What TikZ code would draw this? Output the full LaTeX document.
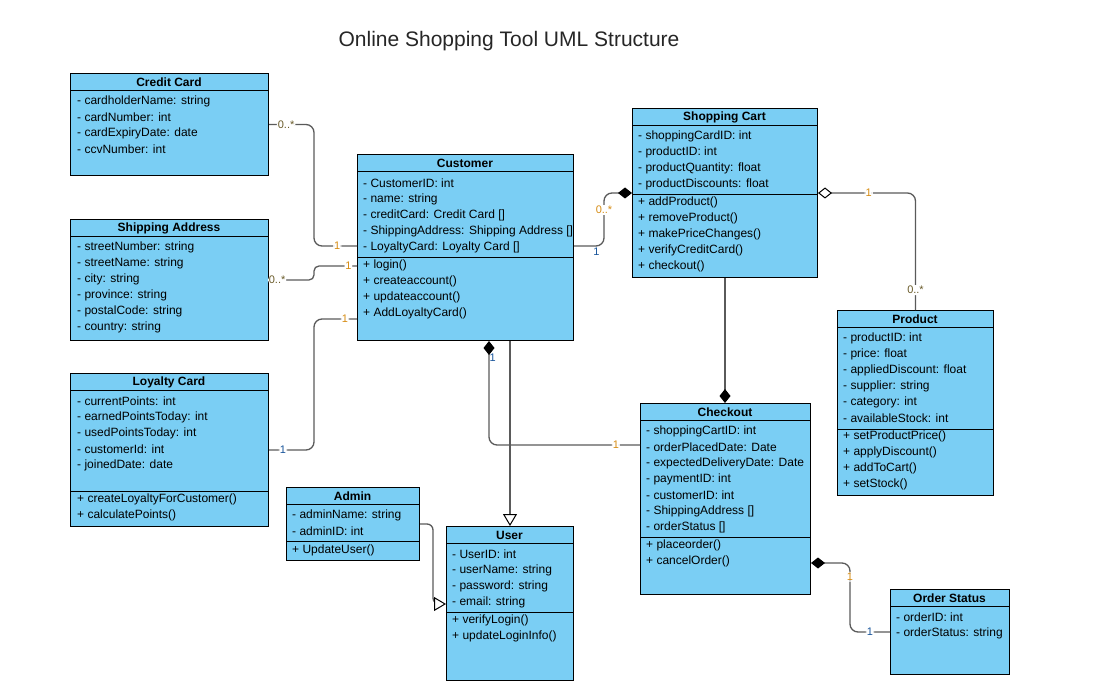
\documentclass[tikz,border=0pt]{standalone}
\usepackage{fontspec}
\setmainfont{Liberation Sans}
\usetikzlibrary{arrows.meta}
\definecolor{boxblue}{RGB}{122,206,244}
\definecolor{linegray}{RGB}{90,90,90}
\definecolor{mulorange}{RGB}{214,140,20}
\definecolor{mulblue}{RGB}{25,85,155}
\definecolor{mulolive}{RGB}{105,90,40}
\tikzset{
  font={\fontsize{12pt}{14pt}\selectfont}}

% class box: name, x, y, width, height, title
\newcommand{\classbox}[6]{%
  \node[cls, minimum width=#4, minimum height=#5] (#1) at (#2,#3) {};
  \node[clstitle] at (#2+#4/2,#3+9) {#6};
  \draw (#1.north west) ++(0,17) -- ++(#4,0);}
% member lines: x, y of first line, list
\newcommand{\members}[3]{%
  \foreach \t [count=\i] in {#3}
    \node[member] at (#1,#2+16*\i-16) {\t};}

\begin{document}
\begin{tikzpicture}[x=1pt,y=-1pt]
\tikzstyle{cls}=[draw=black, fill=boxblue, anchor=north west, inner sep=0pt, line width=1pt]
\tikzstyle{clstitle}=[font=\bfseries\fontsize{12pt}{14pt}\selectfont, inner sep=0pt]
\tikzstyle{member}=[anchor=west, inner sep=0pt]
\tikzstyle{assoc}=[draw=linegray, line width=1.3pt, rounded corners=8]
\tikzstyle{mult}=[font=\fontsize{11pt}{12pt}\selectfont, fill=white, inner sep=1pt]
\tikzstyle{comp}=[-{Diamond[length=14pt,width=11pt,color=black]}]
\tikzstyle{rcomp}=[{Diamond[length=14pt,width=11pt,color=black]}-]
\tikzstyle{agg}=[{Diamond[open,fill=white,length=14pt,width=11pt,color=black,line width=1pt]}-]
\tikzstyle{gen}=[-{Triangle[open,fill=white,length=12pt,width=14pt,color=black,line width=1pt]}]
\useasboundingbox (0,0) rectangle (1096,698);

\node[text=black!85] (title) at (509,41) {\fontsize{21pt}{25pt}\selectfont Online Shopping Tool UML Structure};

\classbox{credit}{70}{73}{198}{102}{Credit Card}
\members{77}{101}{- cardholderName: string, - cardNumber: int, - cardExpiryDate: date, - ccvNumber: int}

\classbox{ship}{70}{219}{198}{121}{Shipping Address}
\members{77}{247}{- streetNumber: string, - streetName: string, - city: string, - province: string, - postalCode: string, - country: string}

\classbox{loyal}{70}{373}{198}{153}{Loyalty Card}
\members{77}{401}{- currentPoints: int, - earnedPointsToday: int, - usedPointsToday: int, - customerId: int, - joinedDate: date}
\draw (70,491) -- (268,491);
\members{77}{499}{+ createLoyaltyForCustomer(), + calculatePoints()}

\classbox{customer}{357}{154}{216}{186}{Customer}
\members{363}{183}{- CustomerID: int, - name: string, - creditCard: Credit Card [], - ShippingAddress: Shipping Address [], - LoyaltyCard: Loyalty Card []}
\draw (357,257) -- (573,257);
\members{363}{265}{+ login(), + createaccount(), + updateaccount(), + AddLoyaltyCard()}

\classbox{cart}{632}{108}{185}{169}{Shopping Cart}
\members{638}{136}{- shoppingCardID: int, - productID: int, - productQuantity: float, - productDiscounts: float}
\draw (632,194) -- (817,194);
\members{638}{202}{+ addProduct(), + removeProduct(), + makePriceChanges(), + verifyCreditCard(), + checkout()}

\classbox{product}{837}{310}{156}{185}{Product}
\members{843}{338}{- productID: int, - price: float, - appliedDiscount: float, - supplier: string, - category: int, - availableStock: int}
\draw (837,429) -- (993,429);
\members{843}{436}{+ setProductPrice(), + applyDiscount(), + addToCart(), + setStock()}

\classbox{checkout}{640}{403}{170}{191}{Checkout}
\members{646}{431}{- shoppingCartID: int, - orderPlacedDate: Date, - expectedDeliveryDate: Date, - paymentID: int, - customerID: int, - ShippingAddress [], - orderStatus []}
\draw (640,537) -- (810,537);
\members{646}{545}{+ placeorder(), + cancelOrder()}

\classbox{admin}{286}{487}{133}{73}{Admin}
\members{292}{515}{- adminName: string, - adminID: int}
\draw (286,541) -- (419,541);
\members{292}{550}{+ UpdateUser()}

\classbox{user}{446}{526}{127}{154}{User}
\members{452}{554}{- UserID: int, - userName: string, - password: string, - email: string}
\draw (446,612) -- (573,612);
\members{452}{620}{+ verifyLogin(), + updateLoginInfo()}

\classbox{ostatus}{890}{589}{119}{85}{Order Status}
\members{896}{617}{- orderID: int, - orderStatus: string}

% associations of the customer
\draw[assoc] (credit.east) -- node[mult, pos=0.38, text=mulolive]{0..*} ++(45,0)
  |- node[mult, pos=0.77, text=mulorange]{1} ([yshift=-92]customer.north west);
\draw[assoc, rounded corners=5] (ship.east) -- node[mult, pos=0.18, text=mulolive]{0..*} ++(45,0)
  |- node[mult, pos=0.9, text=mulorange]{1} ([yshift=-112]customer.north west);
\draw[assoc] (loyal.east) -- node[mult, pos=0.31, text=mulblue]{1} ++(45,0)
  |- node[mult, pos=0.86, text=mulorange]{1} ([yshift=-165]customer.north west);
\draw[assoc, comp] ([yshift=-92]customer.north east) -- node[mult, fill=none, pos=0.75, below, text=mulblue]{1} ++(30,0)
  |- node[mult, pos=0.34, text=mulorange]{0..*} ([yshift=-85]cart.north west);
\draw[assoc, rcomp] ([xshift=132]customer.south west)
  |- node[mult, fill=none, pos=0.08, anchor=west, inner sep=0pt, text=mulblue]{1}
     node[mult, pos=0.92, text=mulorange]{1} ([yshift=-42]checkout.north west);
\draw[assoc, gen] (customer.south -| user.north) -- (user.north);
\draw[assoc, gen, rounded corners=6] (admin.east) -- ++(13,0) |- ([yshift=-78]user.north west);

% cart, product, checkout, order status
\draw[assoc, agg] ([yshift=-85]cart.north east)
  -| node[mult, pos=0.26, text=mulorange]{1} node[mult, pos=0.915, text=mulolive]{0..*} (product.north);
\draw[assoc, comp] (cart.south) -- (cart.south |- checkout.north);
\draw[assoc, rcomp] ([yshift=-160]checkout.north east) -- ++(39,0)
  |- node[mult, pos=0.1, text=mulorange]{1} node[mult, pos=0.75, text=mulblue]{1} (ostatus.west);
\end{tikzpicture}
\end{document}
